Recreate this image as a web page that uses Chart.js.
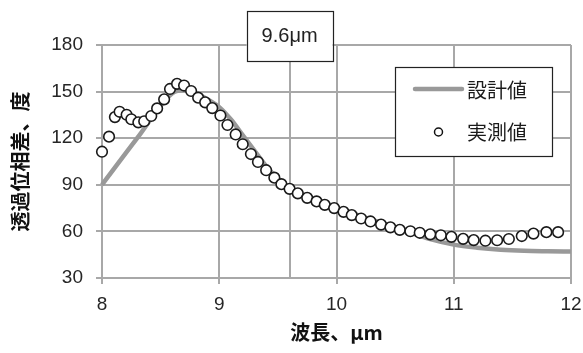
<!DOCTYPE html>
<html>
<head>
<meta charset="utf-8">
<script src="https://cdn.jsdelivr.net/npm/chart.js@4.4.1/dist/chart.umd.min.js"></script>
<style>
  html, body { margin: 0; padding: 0; background: #ffffff; }
  #wrap { width: 583px; height: 353px; position: relative; }
</style>
</head>
<body>
<div id="wrap"><canvas id="c" width="583" height="353"></canvas></div>
<script>
// ---- Data ----
const seriesNames = ['設計値', '実測値'];
const xTitle = '波長、μm';
const yTitle = '透過位相差、度';
const markerLabel = '9.6μm';
const markerX = 9.6;

const xTicks = [8, 9, 10, 11, 12];
const yTicks = [30, 60, 90, 120, 150, 180];

// Design value (gray line)
const designX = [8.0, 8.3, 8.6, 8.7, 8.8, 8.9, 9.0, 9.1, 9.2, 9.3, 9.4, 9.5, 9.6, 9.7, 9.8, 9.9, 10.0, 10.2, 10.4, 10.6, 10.8, 11.0, 11.2, 11.4, 11.6, 11.8, 12.0];
const designY = [90, 120, 149, 151, 149, 145, 140, 132, 122, 112, 102, 94, 88, 84, 80.5, 77.5, 75, 70, 65, 60, 55, 51.5, 49.5, 48.2, 47.5, 47.2, 47];

// Measured value (circle markers)
const measuredX = [8.00, 8.06, 8.11, 8.15, 8.21, 8.25, 8.31, 8.36, 8.42, 8.47, 8.53, 8.58, 8.64, 8.70, 8.76, 8.82, 8.88, 8.94, 9.01, 9.07, 9.14, 9.20, 9.27, 9.33, 9.40, 9.47, 9.53, 9.60, 9.67, 9.75, 9.83, 9.90, 9.98, 10.06, 10.13, 10.21, 10.29, 10.38, 10.46, 10.54, 10.63, 10.71, 10.80, 10.89, 10.98, 11.08, 11.17, 11.27, 11.37, 11.47, 11.58, 11.68, 11.79, 11.89];
const measuredY = [111.3, 121.0, 133.6, 137.0, 135.1, 132.2, 130.2, 130.9, 134.3, 139.2, 145.0, 151.7, 155.0, 153.9, 150.4, 146.1, 143.1, 139.4, 134.6, 128.5, 122.4, 116.1, 109.8, 104.7, 99.4, 94.6, 90.4, 87.4, 84.5, 81.6, 79.3, 77.1, 75.0, 72.6, 70.5, 68.3, 66.4, 64.4, 62.6, 61.0, 60.1, 59.1, 58.1, 57.5, 56.5, 55.2, 54.4, 54.0, 54.3, 55.1, 57.0, 58.6, 59.5, 59.5];

// ---- Styles ----
const GRID = '#a8a8a8';
const LINE = '#999999';
const TICK_FONT = "'Liberation Sans', Arial, sans-serif";
const CJK_FONT = "'Noto Sans CJK JP', 'Noto Sans', sans-serif";

const designData = designX.map((x, i) => ({ x: x, y: designY[i] }));
const measuredData = measuredX.map((x, i) => ({ x: x, y: measuredY[i] }));

const overlay = {
  id: 'overlay',
  beforeDatasetsDraw(chart) {
    const ctx = chart.ctx;
    const xs = chart.scales.x;
    const area = chart.chartArea;
    const px = Math.round(xs.getPixelForValue(markerX));
    ctx.save();
    ctx.strokeStyle = GRID;
    ctx.lineWidth = 2;
    ctx.beginPath();
    ctx.moveTo(px, 60);
    ctx.lineTo(px, area.bottom);
    ctx.stroke();
    ctx.restore();
  },
  afterDraw(chart) {
    const ctx = chart.ctx;
    const xs = chart.scales.x;
    const px = xs.getPixelForValue(markerX);
    ctx.save();
    // label box for 9.6 um
    const bw = 86, bh = 50, by = 11;
    ctx.fillStyle = '#ffffff';
    ctx.fillRect(px - bw / 2, by, bw, bh);
    ctx.strokeStyle = '#222222';
    ctx.lineWidth = 1.2;
    ctx.strokeRect(Math.round(px - bw / 2) + 0.5, by + 0.5, bw, bh);
    ctx.fillStyle = '#222222';
    ctx.font = "20px " + TICK_FONT;
    ctx.textAlign = 'center';
    ctx.textBaseline = 'middle';
    ctx.fillText(markerLabel, px, by + bh / 2);

    // legend box
    const lx = 395, ly = 67, lw = 157, lh = 89;
    ctx.fillStyle = '#ffffff';
    ctx.fillRect(lx, ly, lw, lh);
    ctx.strokeStyle = '#222222';
    ctx.lineWidth = 1.2;
    ctx.strokeRect(lx + 0.5, ly + 0.5, lw, lh);

    // design line sample
    ctx.strokeStyle = LINE;
    ctx.lineWidth = 4.5;
    ctx.lineCap = 'round';
    ctx.beginPath();
    ctx.moveTo(415, 89);
    ctx.lineTo(462, 89);
    ctx.stroke();

    // measured marker sample
    ctx.fillStyle = '#ffffff';
    ctx.strokeStyle = '#111111';
    ctx.lineWidth = 1.5;
    ctx.beginPath();
    ctx.arc(438.5, 132, 4, 0, Math.PI * 2);
    ctx.fill();
    ctx.stroke();

    ctx.fillStyle = '#1a1a1a';
    ctx.font = "20px " + CJK_FONT;
    ctx.textAlign = 'left';
    ctx.textBaseline = 'middle';
    ctx.fillText(seriesNames[0], 467, 90);
    ctx.fillText(seriesNames[1], 467, 132);
    ctx.restore();
  }
};

new Chart(document.getElementById('c'), {
  type: 'scatter',
  data: {
    datasets: [
      {
        label: seriesNames[0],
        data: designData,
        showLine: true,
        borderColor: LINE,
        borderWidth: 4.5,
        pointRadius: 0,
        tension: 0.4,
        cubicInterpolationMode: 'monotone',
        fill: false,
        clip: false,
        order: 2
      },
      {
        label: seriesNames[1],
        data: measuredData,
        showLine: false,
        pointRadius: 5.3,
        pointBorderWidth: 1.6,
        pointBorderColor: '#1a1a1a',
        pointBackgroundColor: '#ffffff',
        clip: false,
        order: 1
      }
    ]
  },
  options: {
    responsive: false,
    animation: false,
    devicePixelRatio: 1,
    layout: { padding: { top: 45, right: 12, left: 0, bottom: 0 } },
    plugins: {
      legend: { display: false },
      tooltip: { enabled: false },
      title: { display: false }
    },
    scales: {
      x: {
        type: 'linear',
        min: 8,
        max: 12,
        afterFit(scale) { scale.height = 75; scale.paddingRight = 0; scale.paddingLeft = 0; },
        afterBuildTicks(scale) { scale.ticks = xTicks.map(v => ({ value: v })); },
        grid: { color: GRID, lineWidth: 2, tickLength: 6, tickColor: GRID, drawTicks: true },
        border: { color: GRID, width: 2 },
        ticks: {
          color: '#262626',
          padding: 9,
          font: { family: TICK_FONT, size: 19 },
          maxRotation: 0
        },
        title: {
          display: true,
          text: xTitle,
          color: '#111111',
          font: { family: CJK_FONT, size: 20, weight: 'bold' },
          padding: { top: 0, bottom: 9 }
        }
      },
      y: {
        type: 'linear',
        min: 30,
        max: 180,
        afterFit(scale) { scale.width = 102; },
        afterBuildTicks(scale) { scale.ticks = yTicks.map(v => ({ value: v })); },
        grid: { color: GRID, lineWidth: 2, tickLength: 6, tickColor: GRID, drawTicks: true },
        border: { color: GRID, width: 2 },
        ticks: {
          color: '#262626',
          padding: 13,
          font: { family: TICK_FONT, size: 19 }
        },
        title: {
          display: true,
          text: yTitle,
          color: '#111111',
          font: { family: CJK_FONT, size: 20, weight: 'bold' },
          padding: { top: 8, bottom: 0 }
        }
      }
    }
  },
  plugins: [overlay]
});
</script>
</body>
</html>
